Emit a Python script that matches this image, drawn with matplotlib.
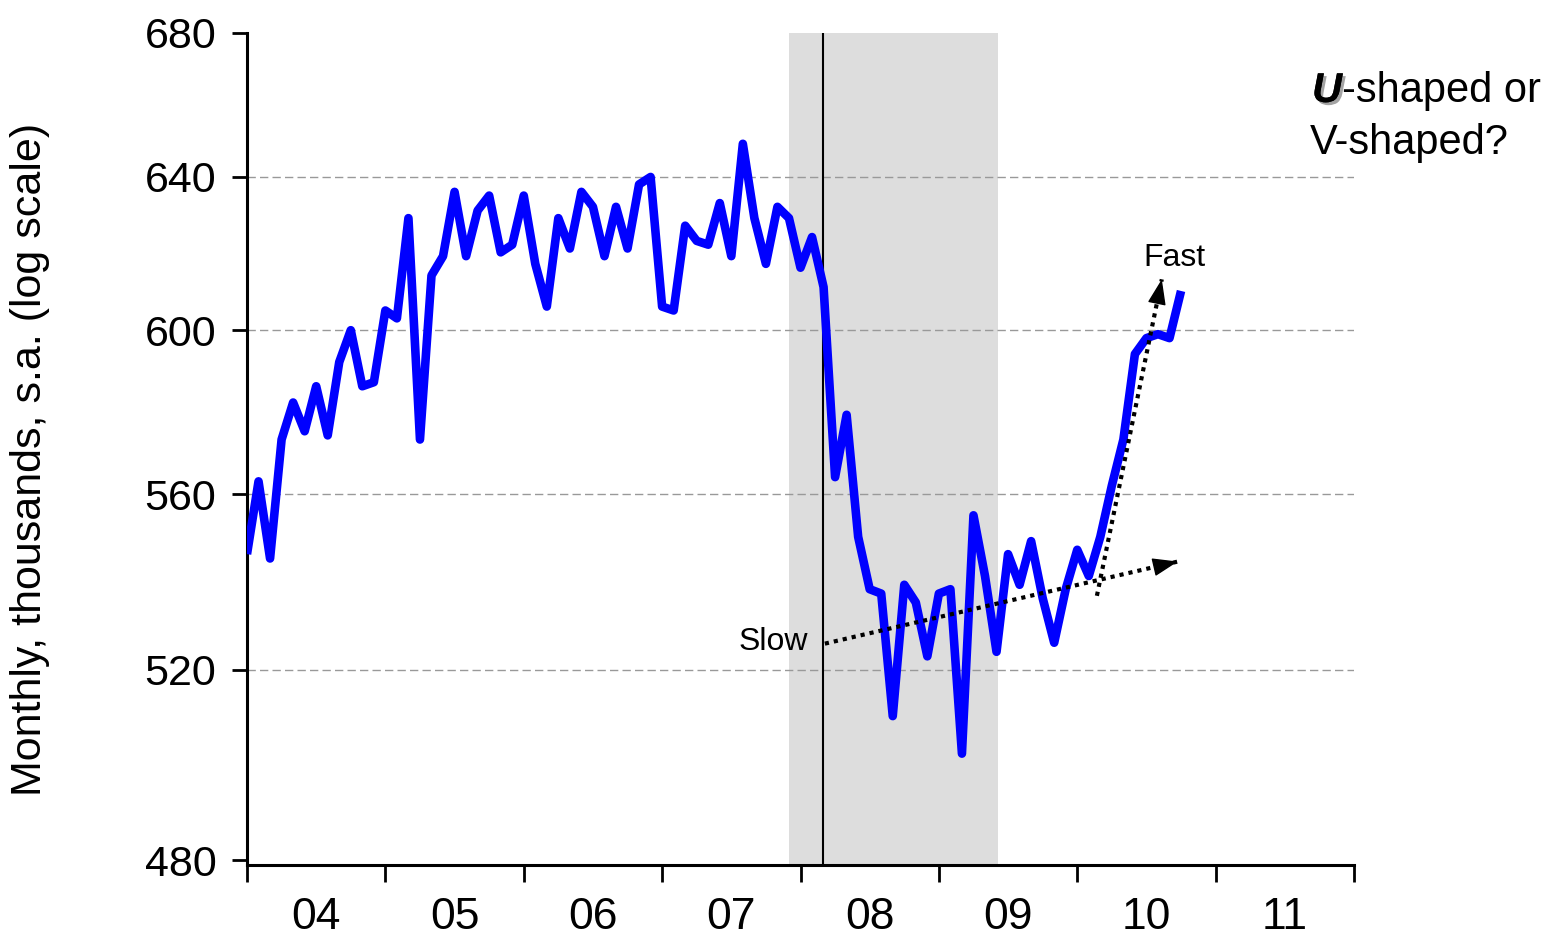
import numpy as np
import matplotlib
matplotlib.use("Agg")
import matplotlib.pyplot as plt
import matplotlib.patheffects as pe

plt.rcParams['font.family'] = ['Liberation Sans', 'DejaVu Sans']

# monthly values, Jan 2004 - Oct 2010 (thousands, s.a.)
values = [546, 563, 545, 573, 582, 575, 586, 574, 592, 600, 586, 587,
          605, 603, 629, 573, 614, 619, 636, 619, 631, 635, 620, 622,
          635, 617, 606, 629, 621, 636, 632, 619, 632, 621, 638, 640,
          606, 605, 627, 623, 622, 633, 619, 649, 629, 617, 632, 629,
          616, 624, 611, 564, 579, 550, 538, 537, 510, 539, 535, 523,
          537, 538, 502, 555, 541, 524, 546, 539, 549, 536, 526, 538,
          547, 541, 550, 562, 573, 594, 598, 599, 598, 610]
start_year = 2004
year_labels = ["04", "05", "06", "07", "08", "09", "10", "11"]
y_ticks = [480, 520, 560, 600, 640, 680]
grid_levels = [520, 560, 600, 640]
recession = (2007.917, 2009.426)
marker_line = 2008.162

# dotted trend arrows: (start, end) in (year, value)
slow_arrow = ((2008.176, 525.8), (2010.727, 544.3))
fast_arrow = ((2010.142, 536.5), (2010.611, 613.0))

x = start_year + np.arange(len(values)) / 12.0

fig = plt.figure(figsize=(15.54, 9.35), dpi=100)
ax = fig.add_axes([247 / 1554, 70 / 935, (1354 - 247) / 1554, (865 - 33) / 935])

ax.axvspan(recession[0], recession[1], color="#dddddd", lw=0, zorder=0)
for g in grid_levels:
    ax.axhline(g, color="#999999", lw=1.0, ls=(0, (6, 3)), zorder=1)
ax.axvline(marker_line, color="black", lw=1.5, zorder=2)

ax.plot(x, values, color="#0000ff", lw=6.2, solid_joinstyle="round",
        solid_capstyle="butt", zorder=3)

ax.set_yscale("log")
ax.set_ylim(479, 680)
ax.set_xlim(2004, 2012)
ax.set_yticks(y_ticks)
ax.set_yticklabels([str(t) for t in y_ticks])
ax.yaxis.set_minor_locator(matplotlib.ticker.NullLocator())
ax.set_xticks(range(2004, 2013))
ax.set_xticklabels([])
ax.set_xticks([y + 0.5 for y in range(2004, 2012)], minor=True)
ax.set_xticklabels(year_labels, minor=True)

ax.tick_params(axis="y", which="major", labelsize=31, length=11, width=2, pad=11)
ax.tick_params(axis="x", which="major", length=12, width=2)
ax.tick_params(axis="x", which="minor", length=0, labelsize=32, pad=23)

for s in ["top", "right"]:
    ax.spines[s].set_visible(False)
for s in ["left", "bottom"]:
    ax.spines[s].set_linewidth(2.2)

ax.set_ylabel("Monthly, thousands, s.a. (log scale)", fontsize=31, va="center")
ax.yaxis.set_label_coords(-0.196, 0.487)

for (x0, y0), (x1, y1) in [slow_arrow, fast_arrow]:
    ax.plot([x0, x1], [y0, y1], color="black", lw=3, ls=(0, (1, 1.2)),
            dash_capstyle="butt", zorder=4)
    # solid head, placed with a tiny shaft just before the end point
    xb = x1 - (x1 - x0) * 0.01
    yb = y1 * (y0 / y1) ** 0.01
    ax.annotate("", xy=(x1, y1), xytext=(xb, yb), zorder=4,
                arrowprops=dict(arrowstyle="-|>,head_length=1.6,head_width=0.58",
                                lw=1, color="black", shrinkA=0, shrinkB=0))

ax.text(2008.053, 526.2, "Slow", fontsize=23, ha="right", va="center")
ax.text(2010.705, 618.4, "Fast", fontsize=23, ha="center", va="center")

# title in the top right corner, "U" bold italic with a shadow
u = fig.text(1312 / 1554, 1 - 91 / 935, "U", fontsize=30, fontweight="bold",
             fontstyle="italic", va="center", ha="left",
             path_effects=[pe.withSimplePatchShadow(offset=(2, -2), shadow_rgbFace="#999999", alpha=0.9),
                           pe.Normal()])
fig.canvas.draw()
bb = u.get_window_extent()
fig.text(bb.x1 / fig.bbox.width, 1 - 91 / 935, "-shaped or", fontsize=30, va="center", ha="left")
fig.text(1310 / 1554, 1 - 143 / 935, "V-shaped?", fontsize=30, va="center", ha="left")

fig.savefig("out.png", dpi=100)
